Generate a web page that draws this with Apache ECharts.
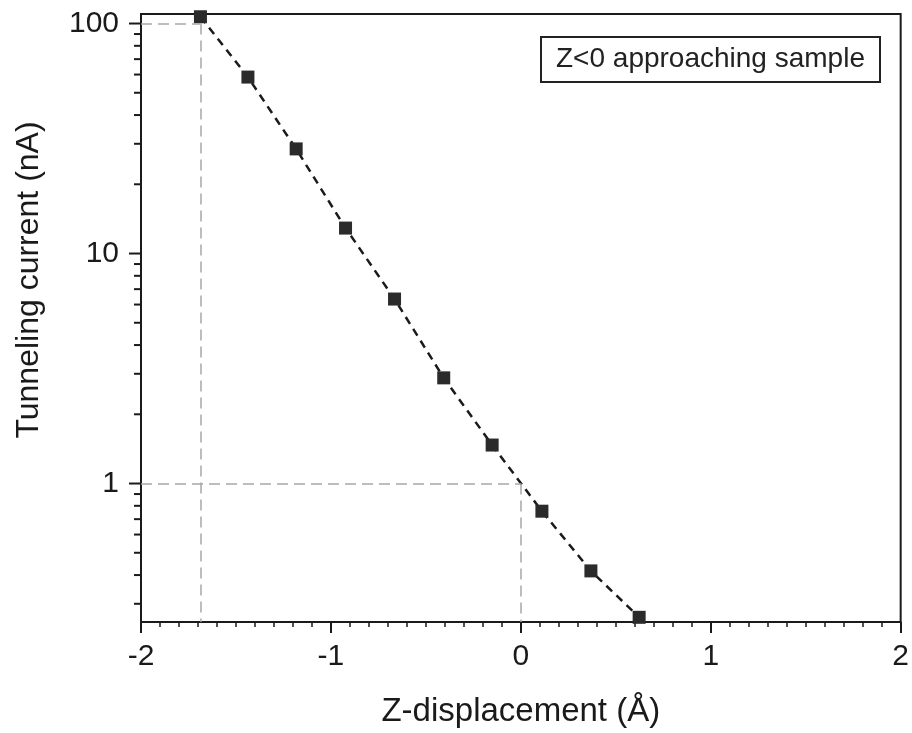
<!DOCTYPE html>
<html>
<head>
<meta charset="utf-8">
<script src="https://cdn.jsdelivr.net/npm/echarts@6/dist/echarts.min.js"></script>
<style>
html,body{margin:0;padding:0;background:#fff;}
#chart{width:912px;height:733px;}
</style>
</head>
<body>
<div id="chart"></div>
<script>
// Data
const zValues  = [-1.687, -1.437, -1.183, -0.923, -0.665, -0.406, -0.151, 0.111, 0.369, 0.623];
const currents = [107, 58.5, 28.5, 12.9, 6.34, 2.88, 1.47, 0.758, 0.417, 0.262];

const xTicks = [-2, -1, 0, 1, 2];
const yMajorTicks = [1, 10, 100];
const yMinorTicks = [0.3, 0.4, 0.5, 0.6, 0.7, 0.8, 0.9,
                     2, 3, 4, 5, 6, 7, 8, 9,
                     20, 30, 40, 50, 60, 70, 80, 90];

const X_MIN = -2, X_MAX = 2, Y_MIN = 0.25, Y_MAX = 110;
const guideCurrent1 = 100, guideCurrent2 = 1, guideZ2 = 0;

const FONT = 'Liberation Sans, Arial, sans-serif';
const INK = '#1a1a1a';

const chart = echarts.init(document.getElementById('chart'));

function tickSeries(values, len) {
  return {
    type: 'custom',
    silent: true,
    clip: false,
    data: values.map(v => [X_MIN, v]),
    renderItem: function (params, api) {
      const p = api.coord([X_MIN, api.value(1)]);
      return {
        type: 'line',
        shape: { x1: p[0] - len, y1: p[1], x2: p[0], y2: p[1] },
        style: { stroke: INK, lineWidth: 2 }
      };
    },
    z: 5
  };
}

const option = {
  backgroundColor: '#fff',
  animation: false,
  title: {
    text: 'Z<0 approaching sample',
    left: 541,
    top: 37,
    borderColor: '#222',
    borderWidth: 2,
    padding: [7, 15],
    textStyle: { fontFamily: FONT, fontSize: 28, fontWeight: 'normal', color: '#222', lineHeight: 31 }
  },
  grid: {
    left: 141, right: 10, top: 14, bottom: 109,
    show: true, borderColor: INK, borderWidth: 2, backgroundColor: 'transparent'
  },
  xAxis: {
    type: 'value',
    min: X_MIN, max: X_MAX, interval: 1,
    name: 'Z-displacement (Å)',
    nameLocation: 'middle',
    nameGap: 73,
    nameTextStyle: { fontFamily: FONT, fontSize: 33, color: INK },
    axisLine: { show: true, onZero: false, lineStyle: { color: INK, width: 2 } },
    axisTick: { show: true, inside: false, length: 11, lineStyle: { color: INK, width: 2 } },
    minorTick: { show: true, splitNumber: 10, length: 5, lineStyle: { color: INK, width: 1.5 } },
    splitLine: { show: false },
    axisLabel: {
      fontFamily: FONT, fontSize: 30, color: INK, margin: 20,
      formatter: v => (xTicks.indexOf(v) >= 0 ? String(v) : '')
    }
  },
  yAxis: {
    type: 'log',
    logBase: 10,
    min: Y_MIN, max: Y_MAX,
    name: 'Tunneling current (nA)',
    nameLocation: 'middle',
    nameGap: 96,
    nameRotate: 90,
    nameTextStyle: { fontFamily: FONT, fontSize: 32, color: INK, padding: [0, 0, 0, 76] },
    axisLine: { show: true, onZero: false, lineStyle: { color: INK, width: 2 } },
    axisTick: { show: false },
    minorTick: { show: false },
    splitLine: { show: false },
    axisLabel: {
      fontFamily: FONT, fontSize: 30, color: INK, margin: 22,
      showMinLabel: false, showMaxLabel: false,
      formatter: v => {
        const hit = yMajorTicks.find(t => Math.abs(t - v) / t < 1e-6);
        return hit !== undefined ? String(hit) : '';
      }
    }
  },
  series: [
    {
      type: 'line',
      silent: true,
      data: [],
      markLine: {
        silent: true,
        symbol: 'none',
        label: { show: false },
        lineStyle: { color: '#a8a8a8', width: 1.5, type: [11, 6] },
        data: [
          [{ coord: [X_MIN, guideCurrent1] }, { coord: [zValues[0], guideCurrent1] }],
          [{ coord: [zValues[0], guideCurrent1] }, { coord: [zValues[0], Y_MIN] }],
          [{ coord: [X_MIN, guideCurrent2] }, { coord: [guideZ2, guideCurrent2] }],
          [{ coord: [guideZ2, guideCurrent2] }, { coord: [guideZ2, Y_MIN] }]
        ]
      },
      z: 1
    },
    {
      type: 'line',
      data: zValues.map((z, i) => [z, currents[i]]),
      symbol: 'rect',
      symbolSize: 13,
      showAllSymbol: true,
      clip: false,
      itemStyle: { color: '#2b2b2b', borderWidth: 0 },
      lineStyle: { color: INK, width: 2.5, type: [8, 6] },
      z: 3
    },
    tickSeries(yMajorTicks, 12),
    tickSeries(yMinorTicks, 7)
  ]
};

chart.setOption(option);
</script>
</body>
</html>
